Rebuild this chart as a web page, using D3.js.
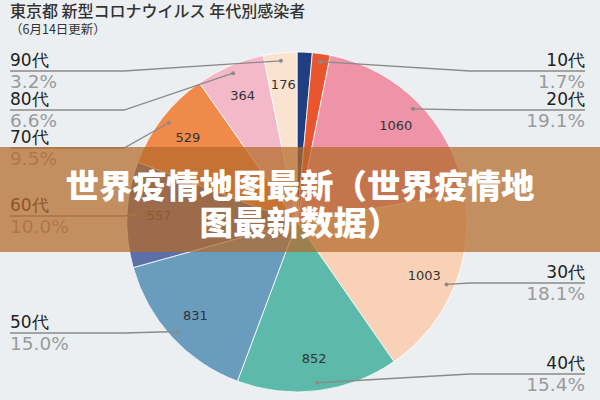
<!DOCTYPE html>
<html>
<head>
<meta charset="utf-8">
<script src="https://cdn.jsdelivr.net/npm/d3@7"></script>
<style>
  body { margin: 0; background: #eceff1; }
  svg { display: block; }
</style>
</head>
<body>
<div id="chart"></div>
<script>
// 年代別感染者 (6月14日更新)
const ageGroups = ["10歳未満", "10代", "20代", "30代", "40代", "50代", "60代", "70代", "80代", "90代"];
const cases = [80, 94, 1060, 1003, 852, 831, 557, 529, 364, 176];
const sliceColors = ["#1f3f82", "#e8552e", "#ef93a9", "#f9d1b6", "#5dbaab", "#6a9cbe", "#5c6fa9", "#f08a4b", "#f4b9c9", "#fbe3d2"];

// where the outside labels sit (side, y of the underline)
const labelLayout = {
  "10代": ["right", 71], "20代": ["right", 110], "30代": ["right", 283], "40代": ["right", 374],
  "50代": ["left", 333], "60代": ["left", 216], "70代": ["left", 148], "80代": ["left", 110], "90代": ["left", 71]
};

const width = 600, height = 400;
const cx = 297, cy = 222, radius = 170;

const svg = d3.select("#chart").append("svg")
  .attr("width", width)
  .attr("height", height);

svg.append("rect").attr("width", width).attr("height", height).attr("fill", "#eceff1");

// タイトル
svg.append("text")
  .attr("x", 10).attr("y", 17)
  .style("font-family", "'Noto Sans CJK JP', sans-serif")
  .style("font-size", "16px")
  .style("font-weight", "500")
  .style("fill", "#333")
  .text("東京都 新型コロナウイルス 年代別感染者");

svg.append("text")
  .attr("x", 10).attr("y", 34)
  .style("font-family", "'Noto Sans CJK JP', sans-serif")
  .style("font-size", "12.5px")
  .style("fill", "#333")
  .text("（6月14日更新）");

const total = d3.sum(cases);
const color = d3.scaleOrdinal().domain(ageGroups).range(sliceColors);

const pie = d3.pie().sort(null).value(d => d.value);
const arcs = pie(ageGroups.map((name, i) => ({ name, value: cases[i] })));

const arc = d3.arc().innerRadius(0).outerRadius(radius);
const labelArc = d3.arc().innerRadius(138).outerRadius(138);
const dotArc = d3.arc().innerRadius(162).outerRadius(162);

const g = svg.append("g").attr("transform", `translate(${cx},${cy})`);

g.selectAll("path.slice")
  .data(arcs)
  .join("path")
  .attr("class", "slice")
  .attr("d", arc)
  .attr("fill", d => color(d.data.name))
  .attr("stroke", "#ffffff")
  .attr("stroke-width", 0.8);

// 値ラベル (小さい所は省略)
g.selectAll("text.value")
  .data(arcs.filter(d => d.value > 150))
  .join("text")
  .attr("class", "value")
  .attr("transform", d => `translate(${labelArc.centroid(d)})`)
  .attr("text-anchor", "middle")
  .attr("dominant-baseline", "central")
  .style("font-family", "'DejaVu Sans', sans-serif")
  .style("font-size", "13px")
  .style("fill", "#333")
  .text(d => d.value);

// 引き出し線とラベル
const fmt = d3.format(".1f");
const labeled = arcs.filter(d => labelLayout[d.data.name]);

labeled.forEach(d => {
  const [side, ly] = labelLayout[d.data.name];
  const [dx, dy] = dotArc.centroid(d);
  const px = cx + dx, py = cy + dy;
  const elbowX = side === "left" ? cx - radius - 3 : cx + radius + 3;
  const endX = side === "left" ? 10 : 585;

  svg.append("polyline")
    .attr("points", [[px, py], [elbowX, ly], [endX, ly]].map(p => p.join(",")).join(" "))
    .attr("fill", "none")
    .attr("stroke", "#8a8a8a")
    .attr("stroke-width", 1.3);

  svg.append("circle")
    .attr("cx", px).attr("cy", py).attr("r", 2)
    .attr("fill", "#8a8a8a");

  const anchor = side === "left" ? "start" : "end";
  svg.append("text")
    .attr("x", endX).attr("y", ly - 5)
    .attr("text-anchor", anchor)
    .style("font-family", "'DejaVu Sans', sans-serif")
    .style("font-size", "17px")
    .style("fill", "#222")
    .text(d.data.name);

  svg.append("text")
    .attr("x", endX).attr("y", ly + 17)
    .attr("text-anchor", anchor)
    .style("font-family", "'DejaVu Sans', sans-serif")
    .style("font-size", "18.5px")
    .style("fill", "#9a9a9a")
    .text(fmt(d.value / total * 100) + "%");
});

// 上に重なる帯
svg.append("rect")
  .attr("x", 0).attr("y", 147)
  .attr("width", width).attr("height", 105)
  .attr("fill", "rgb(180,106,40)")
  .attr("opacity", 0.72);

const bannerLines = ["世界疫情地图最新（世界疫情地", "图最新数据）"];
svg.selectAll("text.banner")
  .data(bannerLines)
  .join("text")
  .attr("class", "banner")
  .attr("x", 300)
  .attr("y", (d, i) => 198 + i * 37)
  .attr("text-anchor", "middle")
  .style("font-family", "'Noto Sans CJK SC', sans-serif")
  .style("font-size", "33.5px")
  .style("font-weight", "900")
  .style("fill", "#ffffff")
  .text(d => d);
</script>
</body>
</html>
